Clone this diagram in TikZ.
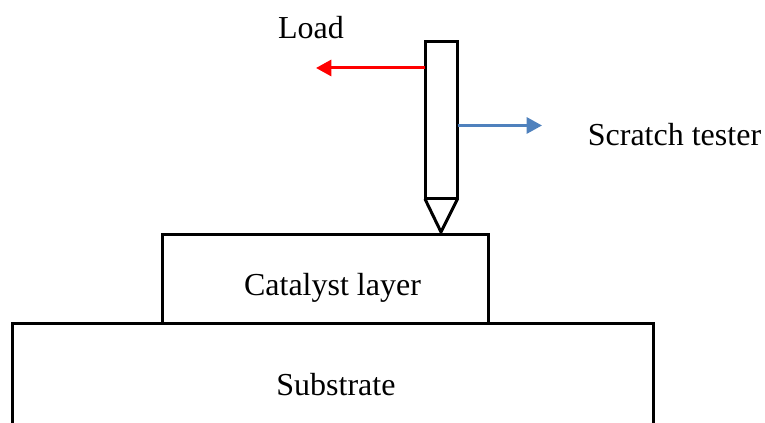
\documentclass[tikz,border=0pt]{standalone}
\usepackage{fontspec}
\usetikzlibrary{arrows.meta}
\setmainfont{Liberation Serif}
\definecolor{testerblue}{RGB}{79,129,189}
\tikzset{px/.style={x=0.75pt,y=-0.75pt},
  outline/.style={draw,line width=2.25pt,line join=miter},
  block/.style={outline,inner sep=0pt,outer sep=0pt,anchor=north west},
  pointer/.style={-{Triangle[length=11.5pt,width=12pt]},line width=2.25pt},
  caption/.style={font=\fontsize{24}{28}\selectfont,inner sep=0pt,anchor=base}}
\begin{document}
\begin{tikzpicture}[px]
    \useasboundingbox (0,0) rectangle (765,423);
    \coordinate (sl) at (12.5,423);
    \coordinate (sr) at (653,423);
    \node[block,minimum width=24.4pt,minimum height=117.75pt](pen) at (425,42) {};
    \coordinate (tip) at (441,232);
    \draw[outline] (pen.south west) -- (tip) -- (pen.south east);
    \draw[outline] (sl) -- (12.5,324) -- (653,324) -- (sr);
    \node[block,minimum width=244.5pt,minimum height=66.75pt](cat) at (162,235) {};
    \node[caption] (load) at (311,38.3) {Load};
    \node[caption] (tester) at (674.5,146) {Scratch tester};
    \node[caption] (catl) at (332.5,296) {Catalyst layer};
    \node[caption] (sub) at (336,395.3) {Substrate};
    \coordinate (le) at (316,68);
    \coordinate (re) at (542,125.5);
    \draw[pointer,red] (pen.west |- le) -- (le);
    \draw[pointer,testerblue] (pen.east |- re) -- (re);
\end{tikzpicture}
\end{document}
